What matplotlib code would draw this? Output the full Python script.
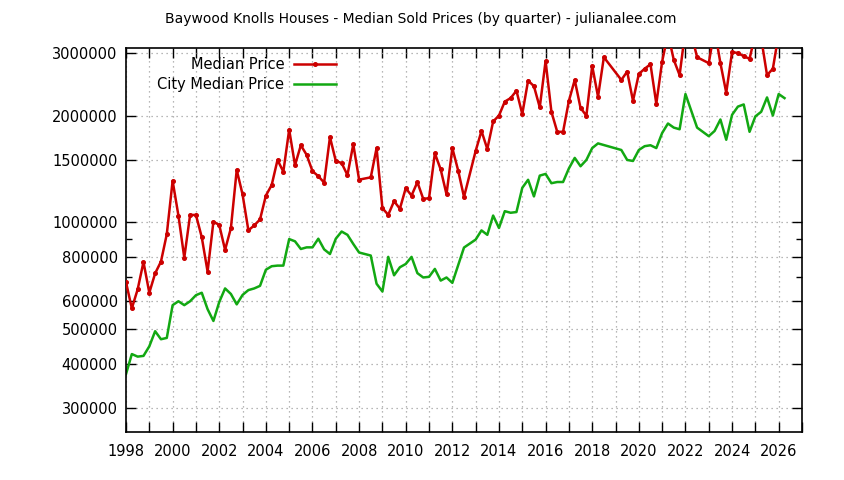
import matplotlib
matplotlib.use("Agg")
import matplotlib.pyplot as plt
from matplotlib.ticker import FixedLocator, NullFormatter

plt.rcParams['font.family'] = ['DejaVu Sans']

# quarterly data (year + quarter fraction), some quarters absent
red_t = [1998.00, 1998.25, 1998.50, 1998.75, 1999.00, 1999.25, 1999.50, 1999.75,
         2000.00, 2000.25, 2000.50, 2000.75, 2001.00, 2001.25, 2001.50, 2001.75,
         2002.00, 2002.25, 2002.50, 2002.75, 2003.00, 2003.25, 2003.50, 2003.75,
         2004.00, 2004.25, 2004.50, 2004.75, 2005.00, 2005.25, 2005.50, 2005.75,
         2006.00, 2006.25, 2006.50, 2006.75, 2007.00, 2007.25, 2007.50, 2007.75,
         2008.00, 2008.50, 2008.75, 2009.00, 2009.25, 2009.50, 2009.75,
         2010.00, 2010.25, 2010.50, 2010.75, 2011.00, 2011.25, 2011.50, 2011.75,
         2012.00, 2012.25, 2012.50, 2013.00, 2013.25, 2013.50, 2013.75,
         2014.00, 2014.25, 2014.50, 2014.75, 2015.00, 2015.25, 2015.50, 2015.75,
         2016.00, 2016.25, 2016.50, 2016.75, 2017.00, 2017.25, 2017.50, 2017.75,
         2018.00, 2018.25, 2018.50, 2019.25, 2019.50, 2019.75,
         2020.00, 2020.25, 2020.50, 2020.75, 2021.00, 2021.25, 2021.50, 2021.75,
         2022.00, 2022.25, 2022.50, 2023.00, 2023.25, 2023.50, 2023.75,
         2024.00, 2024.25, 2024.50, 2024.75, 2025.00, 2025.25, 2025.50, 2025.75,
         2026.00]
red_v = [679000, 573000, 648000, 774000, 634000, 719000, 776000, 927000,
         1310000, 1045000, 796000, 1050000, 1050000, 909000, 727000, 1005000,
         984000, 837000, 964000, 1406000, 1200000, 950000, 981000, 1020000,
         1190000, 1275000, 1500000, 1390000, 1825000, 1450000, 1650000, 1550000,
         1395000, 1350000, 1295000, 1740000, 1490000, 1470000, 1360000, 1660000,
         1320000, 1340000, 1620000, 1097000, 1051000, 1148000, 1093000,
         1249000, 1191000, 1299000, 1166000, 1170000, 1566000, 1410000, 1200000,
         1620000, 1400000, 1180000, 1590000, 1810000, 1610000, 1925000,
         2000000, 2190000, 2240000, 2350000, 2020000, 2510000, 2420000, 2110000,
         2850000, 2050000, 1800000, 1800000, 2200000, 2520000, 2100000, 2000000,
         2760000, 2260000, 2920000, 2520000, 2660000, 2200000,
         2620000, 2710000, 2790000, 2160000, 2840000, 3400000, 2870000, 2600000,
         3500000, 3400000, 2920000, 2810000, 3500000, 2810000, 2320000,
         3020000, 3000000, 2940000, 2890000, 3400000, 3300000, 2600000, 2710000,
         3400000]

city_t = [1998.00, 1998.25, 1998.50, 1998.75, 1999.00, 1999.25, 1999.50, 1999.75,
          2000.00, 2000.25, 2000.50, 2000.75, 2001.00, 2001.25, 2001.50, 2001.75,
          2002.00, 2002.25, 2002.50, 2002.75, 2003.00, 2003.25, 2003.50, 2003.75,
          2004.00, 2004.25, 2004.50, 2004.75, 2005.00, 2005.25, 2005.50, 2005.75,
          2006.00, 2006.25, 2006.50, 2006.75, 2007.00, 2007.25, 2007.50, 2007.75,
          2008.00, 2008.50, 2008.75, 2009.00, 2009.25, 2009.50, 2009.75,
          2010.00, 2010.25, 2010.50, 2010.75, 2011.00, 2011.25, 2011.50, 2011.75,
          2012.00, 2012.50, 2013.00, 2013.25, 2013.50, 2013.75,
          2014.00, 2014.25, 2014.50, 2014.75, 2015.00, 2015.25, 2015.50, 2015.75,
          2016.00, 2016.25, 2016.50, 2016.75, 2017.00, 2017.25, 2017.50, 2017.75,
          2018.00, 2018.25, 2019.25, 2019.50, 2019.75,
          2020.00, 2020.25, 2020.50, 2020.75, 2021.00, 2021.25, 2021.50, 2021.75,
          2022.00, 2022.50, 2023.00, 2023.25, 2023.50, 2023.75,
          2024.00, 2024.25, 2024.50, 2024.75, 2025.00, 2025.25, 2025.50, 2025.75,
          2026.00, 2026.25]
city_v = [374000, 426000, 419000, 421000, 448000, 494000, 469000, 473000,
          585000, 600000, 585000, 600000, 624000, 634000, 570000, 528000,
          597000, 652000, 629000, 588000, 625000, 645000, 652000, 663000,
          736000, 753000, 756000, 756000, 898000, 885000, 842000, 851000,
          851000, 900000, 840000, 815000, 900000, 943000, 923000, 870000,
          823000, 807000, 672000, 639000, 800000, 710000, 748000,
          764000, 800000, 720000, 700000, 703000, 740000, 686000, 700000,
          676000, 850000, 895000, 950000, 923000, 1046000,
          965000, 1076000, 1065000, 1070000, 1252000, 1319000, 1184000, 1355000,
          1370000, 1290000, 1300000, 1300000, 1420000, 1520000, 1440000, 1500000,
          1620000, 1670000, 1600000, 1500000, 1490000,
          1600000, 1640000, 1650000, 1620000, 1786000, 1900000, 1850000, 1830000,
          2300000, 1850000, 1750000, 1810000, 1950000, 1710000,
          2010000, 2120000, 2150000, 1800000, 1990000, 2050000, 2250000, 2000000,
          2300000, 2240000]

ytick_vals = [300000, 400000, 500000, 600000, 800000, 1000000, 1500000, 2000000, 3000000]
ytick_minor = [700000, 900000]
year_ticks = list(range(1998, 2028))
year_labels = [str(y) if y % 2 == 0 else "" for y in year_ticks]

fig = plt.figure(figsize=(8.44, 4.8), dpi=100)
ax = fig.add_axes([126 / 844, 1 - 432 / 480, (802 - 126) / 844, (432 - 48) / 480])

ax.plot(red_t, red_v, color="#cc0000", lw=1.8, marker="o", ms=2.6,
        label="Median Price", zorder=3)
ax.plot(city_t, city_v, color="#12a812", lw=1.8, label="City Median Price", zorder=2)

ax.set_yscale("log")
ax.set_xlim(1998, 2027)
ax.set_ylim(257000, 3100000)

ax.yaxis.set_major_locator(FixedLocator(ytick_vals))
ax.set_yticklabels([str(v) for v in ytick_vals])
ax.yaxis.set_minor_locator(FixedLocator(ytick_minor))
ax.yaxis.set_minor_formatter(NullFormatter())
ax.set_xticks(year_ticks)
ax.set_xticklabels(year_labels)

ax.tick_params(axis="both", which="major", direction="in", length=7, width=1,
               top=True, right=True, labelsize=10.5, colors="black")
ax.tick_params(axis="y", which="minor", direction="in", length=4, width=1,
               left=True, right=True)
ax.tick_params(axis="x", which="major", pad=9)
ax.tick_params(axis="y", which="major", pad=6)

ax.grid(True, which="major", linestyle=(0, (1, 3)), color="#a0a0a0", lw=0.9)
for s in ax.spines.values():
    s.set_linewidth(1.2)

leg = ax.legend(loc="upper right", bbox_to_anchor=((336 - 126) / 676, 0.976),
                frameon=False, markerfirst=False, fontsize=10.5, handlelength=2.9,
                handletextpad=0.65, labelspacing=0.35, borderaxespad=0, borderpad=0)

fig.text(421 / 844, 1 - 19 / 480,
         "Baywood Knolls Houses - Median Sold Prices (by quarter) - julianalee.com",
         ha="center", va="center", fontsize=10)

fig.savefig("out.png", dpi=100)
